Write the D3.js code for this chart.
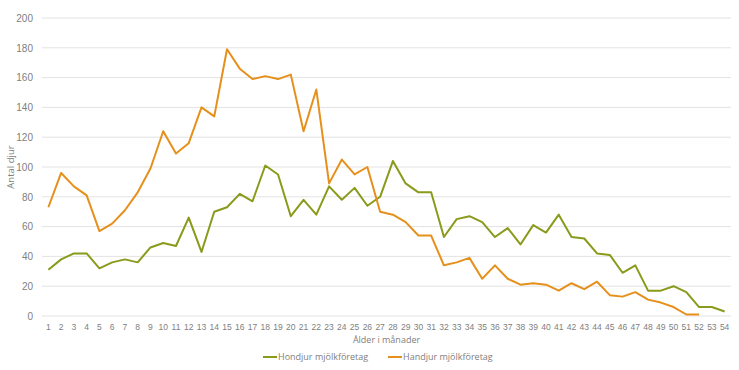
<!DOCTYPE html>
<html>
<head>
<meta charset="utf-8">
<script src="https://cdn.jsdelivr.net/npm/d3@7"></script>
<style>
  body { margin: 0; background: #fff; font-family: "Open Sans", sans-serif; }
  .tick text { fill: #808080; }
</style>
</head>
<body>
<div id="chart"></div>
<script>
// months 1..54
var months = d3.range(1, 55).map(String);

var hondjur = [31, 38, 42, 42, 32, 36, 38, 36, 46, 49, 47, 66, 43, 70, 73, 82, 77, 101, 95, 67,
    78, 68, 87, 78, 86, 74, 80, 104, 89, 83, 83, 53, 65, 67, 63, 53, 59, 48, 61, 56,
    68, 53, 52, 42, 41, 29, 34, 17, 17, 20, 16, 6, 6, 3];

var handjur = [73, 96, 87, 81, 57, 62, 71, 83, 99, 124, 109, 116, 140, 134, 179, 166, 159, 161, 159, 162,
    124, 152, 89, 105, 95, 100, 70, 68, 63, 54, 54, 34, 36, 39, 25, 34, 25, 21, 22, 21,
    17, 22, 18, 23, 14, 13, 16, 11, 9, 6, 1, 1];

var yTicks = [0, 20, 40, 60, 80, 100, 120, 140, 160, 180, 200];

var seriesNames = ["Hondjur mjölkföretag", "Handjur mjölkföretag"];
var seriesColors = ["#8a9a1b", "#e6901c"];

var svgWidth = 739, svgHeight = 370;
var margin = { top: 18, right: 8, bottom: 54, left: 42 };
var chartWidth = svgWidth - margin.left - margin.right;
var chartHeight = svgHeight - margin.top - margin.bottom;

var svg = d3.select("#chart")
    .append("svg")
    .attr("width", svgWidth)
    .attr("height", svgHeight);

var chartGroup = svg.append("g")
    .attr("transform", `translate(${margin.left}, ${margin.top})`);

var xScale = d3.scaleBand()
    .domain(months)
    .range([0, chartWidth]);

var yScale = d3.scaleLinear()
    .domain([0, 200])
    .range([chartHeight, 0]);

// gridlines
chartGroup.append("g")
    .selectAll("line")
    .data(yTicks)
    .enter()
    .append("line")
    .attr("x1", 0)
    .attr("x2", chartWidth)
    .attr("y1", d => yScale(d))
    .attr("y2", d => yScale(d))
    .attr("stroke", "#e3e3e3")
    .attr("stroke-width", 1);

// axes
var leftAxis = d3.axisLeft(yScale).tickValues(yTicks).tickSize(0).tickPadding(9);
var bottomAxis = d3.axisBottom(xScale).tickSize(0).tickPadding(8);

var yAxisG = chartGroup.append("g").call(leftAxis);
yAxisG.select(".domain").remove();
yAxisG.selectAll("text").style("font-size", "10px");

var xAxisG = chartGroup.append("g")
    .attr("transform", `translate(0, ${chartHeight})`)
    .call(bottomAxis);
xAxisG.select(".domain").remove();
xAxisG.selectAll("text").style("font-size", "8.5px");

// lines
var line = d3.line()
    .x((d, i) => xScale(months[i]) + xScale.bandwidth() / 2)
    .y(d => yScale(d));

[hondjur, handjur].forEach(function(values, i) {
    chartGroup.append("path")
        .datum(values)
        .attr("fill", "none")
        .attr("stroke", seriesColors[i])
        .attr("stroke-width", 2)
        .attr("stroke-linejoin", "round")
        .attr("d", line);
});

// axis titles
svg.append("text")
    .attr("transform", `translate(14, ${margin.top + chartHeight / 2}) rotate(-90)`)
    .attr("text-anchor", "middle")
    .style("font-size", "9.5px")
    .attr("fill", "#808080")
    .text("Antal djur");

svg.append("text")
    .attr("x", margin.left + chartWidth / 2)
    .attr("y", 343)
    .attr("text-anchor", "middle")
    .style("font-size", "9px")
    .attr("fill", "#808080")
    .text("Ålder i månader");

// legend
var legendX = [263, 388];
seriesNames.forEach(function(name, i) {
    var g = svg.append("g").attr("transform", `translate(${legendX[i]}, 357)`);
    g.append("line")
        .attr("x1", 0).attr("x2", 14)
        .attr("y1", 0).attr("y2", 0)
        .attr("stroke", seriesColors[i])
        .attr("stroke-width", 2);
    g.append("text")
        .attr("x", 15)
        .attr("y", 3.2)
        .style("font-size", "9px")
        .attr("fill", "#808080")
        .text(name);
});
</script>
</body>
</html>
